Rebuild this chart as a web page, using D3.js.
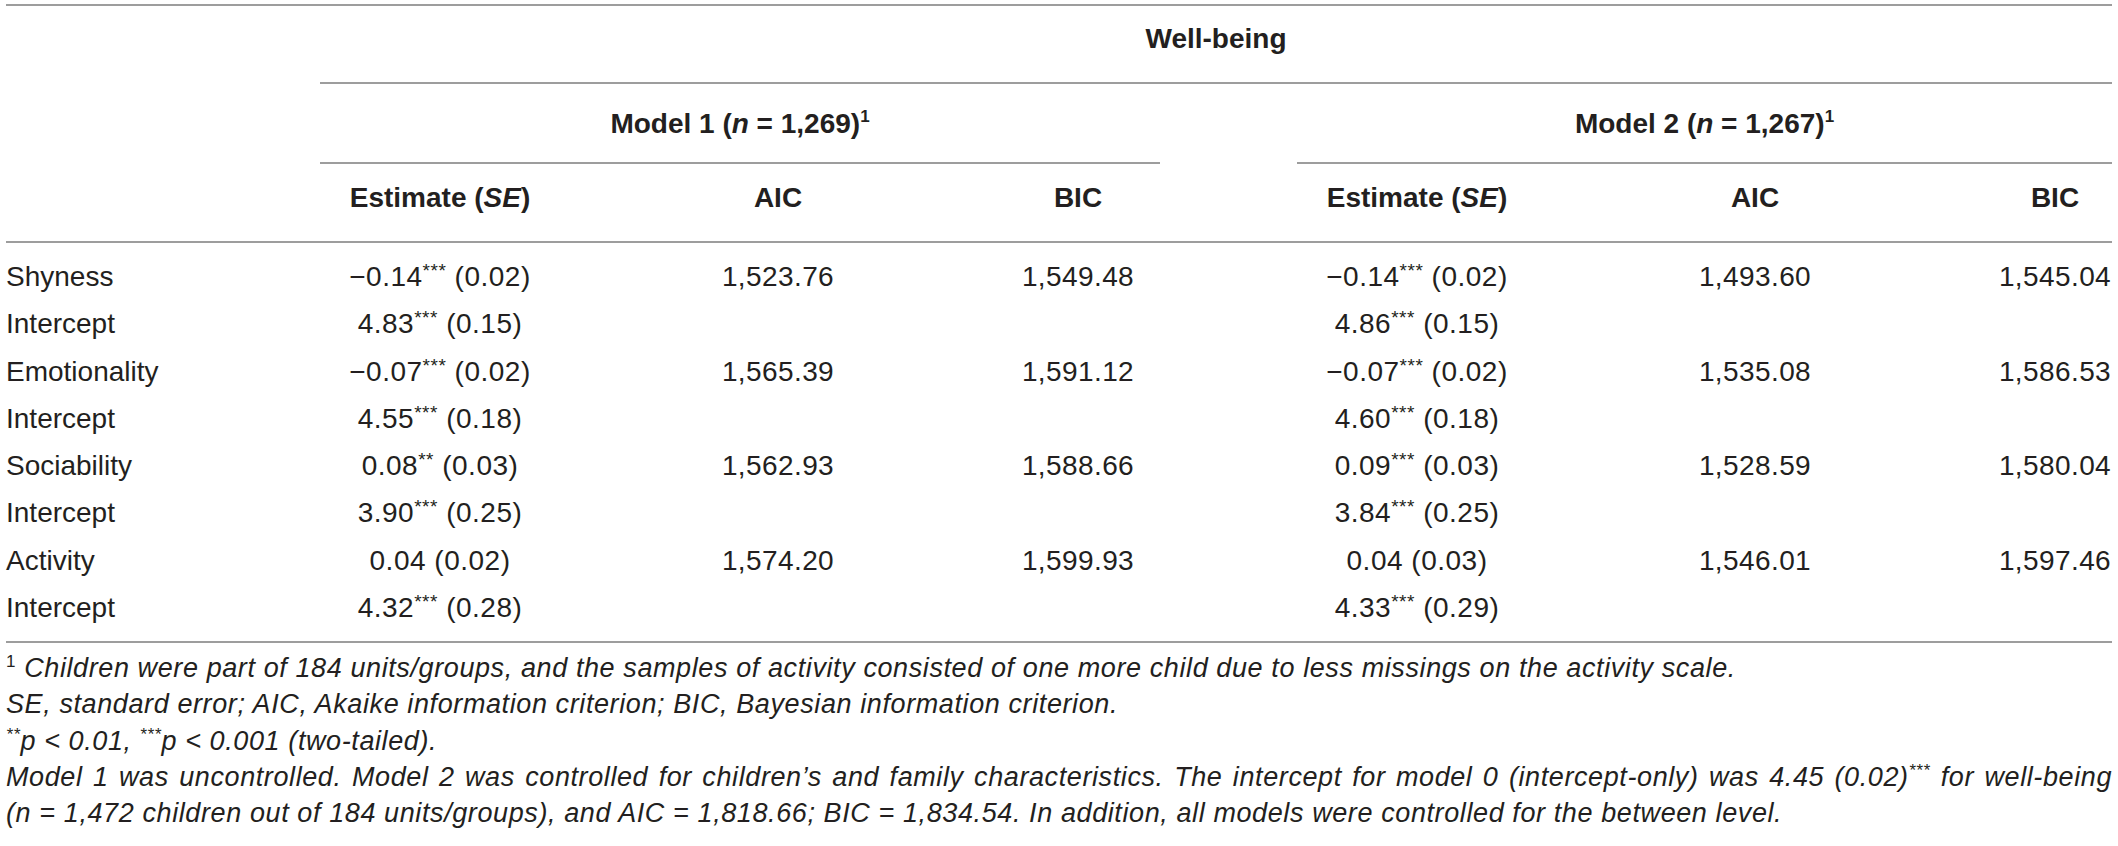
<!DOCTYPE html>
<html>
<head>
<meta charset="utf-8">
<script src="https://cdn.jsdelivr.net/npm/d3@7"></script>
<style>
  html, body { margin: 0; padding: 0; background: #fff; }
  svg text { font-family: "Liberation Sans", Arial, Helvetica, sans-serif; fill: #231f20; }
</style>
</head>
<body>
<svg width="2118" height="846"></svg>
<script>
// table content
var rowLabels = ["Shyness", "Intercept", "Emotionality", "Intercept", "Sociability", "Intercept", "Activity", "Intercept"];

var m1Est = [-0.14, 4.83, -0.07, 4.55, 0.08, 3.90, 0.04, 4.32];
var m1SE  = [0.02, 0.15, 0.02, 0.18, 0.03, 0.25, 0.02, 0.28];
var m1Sig = ["***", "***", "***", "***", "**", "***", "", "***"];
var m1AIC = [1523.76, null, 1565.39, null, 1562.93, null, 1574.20, null];
var m1BIC = [1549.48, null, 1591.12, null, 1588.66, null, 1599.93, null];

var m2Est = [-0.14, 4.86, -0.07, 4.60, 0.09, 3.84, 0.04, 4.33];
var m2SE  = [0.02, 0.15, 0.02, 0.18, 0.03, 0.25, 0.03, 0.29];
var m2Sig = ["***", "***", "***", "***", "***", "***", "", "***"];
var m2AIC = [1493.60, null, 1535.08, null, 1528.59, null, 1546.01, null];
var m2BIC = [1545.04, null, 1586.53, null, 1580.04, null, 1597.46, null];

var models = [
  {name: "Model 1", n: "1,269", est: m1Est, se: m1SE, sig: m1Sig, aic: m1AIC, bic: m1BIC},
  {name: "Model 2", n: "1,267", est: m2Est, se: m2SE, sig: m2Sig, aic: m2AIC, bic: m2BIC}
];
var colKeys = ["est", "aic", "bic"];

// footnotes: [text, kind]  kind: "" plain italic, "sup" superscript, "supu" upright superscript
var footnotes = [
  [["1", "supu"], [" Children were part of 184 units/groups, and the samples of activity consisted of one more child due to less missings on the activity scale.", ""]],
  [["SE, standard error; AIC, Akaike information criterion; BIC, Bayesian information criterion.", ""]],
  [["**", "sup"], ["p < 0.01, ", ""], ["***", "sup"], ["p < 0.001 (two-tailed).", ""]],
  [["Model 1 was uncontrolled. Model 2 was controlled for children\u2019s and family characteristics. The intercept for model 0 (intercept-only) was 4.45 (0.02)", ""], ["***", "sup"], [" for well-being", ""]],
  [["(n = 1,472 children out of 184 units/groups), and AIC = 1,818.66; BIC = 1,834.54. In addition, all models were controlled for the between level.", ""]]
];

var svg = d3.select("svg");
var left = 6, right = 2112;
var lineColor = "#7d7d7d";

var groupX = d3.scaleOrdinal().domain([0, 1]).range([320, 1297]);
var groupW = 840, groupW2 = 815;
var colX = d3.scaleOrdinal().domain(colKeys).range([120, 458, 758]);
var rowY = d3.scaleLinear().domain([0, rowLabels.length - 1]).range([286, 617]);

var fmtEst = d3.format(".2f");
var fmtIC = d3.format(",.2f");

function hline(x1, x2, y) {
  svg.append("line")
    .attr("x1", x1).attr("x2", x2)
    .attr("y1", y).attr("y2", y)
    .attr("stroke", lineColor)
    .attr("stroke-width", 1.6);
}

// rules
hline(left, right, 5);
hline(groupX(0), right, 83);
hline(groupX(0), groupX(0) + groupW, 163);
hline(groupX(1), groupX(1) + groupW2, 163);
hline(left, right, 242);
hline(left, right, 642);

// header
svg.append("text")
  .attr("x", (groupX(0) + right) / 2).attr("y", 48)
  .attr("text-anchor", "middle")
  .attr("font-size", 28).attr("font-weight", "bold")
  .text("Well-being");

models.forEach(function(m, i) {
  var gx = groupX(i);
  var gw = i === 0 ? groupW : groupW2;
  var t = svg.append("text")
    .attr("x", gx + gw / 2).attr("y", 133)
    .attr("text-anchor", "middle")
    .attr("font-size", 28).attr("font-weight", "bold");
  t.append("tspan").text(m.name + " (");
  t.append("tspan").attr("font-style", "italic").text("n");
  t.append("tspan").text(" = " + m.n + ")");
  t.append("tspan").attr("font-size", 17).attr("dy", -11).text("1");

  var h = svg.append("text")
    .attr("x", gx + colX("est")).attr("y", 207)
    .attr("text-anchor", "middle")
    .attr("font-size", 28).attr("font-weight", "bold");
  h.append("tspan").text("Estimate (");
  h.append("tspan").attr("font-style", "italic").text("SE");
  h.append("tspan").text(")");

  ["aic", "bic"].forEach(function(k) {
    svg.append("text")
      .attr("x", gx + colX(k)).attr("y", 207)
      .attr("text-anchor", "middle")
      .attr("font-size", 28).attr("font-weight", "bold")
      .text(k.toUpperCase());
  });

  // body cells
  var est = svg.append("g").selectAll("text")
    .data(rowLabels.map(function(d, r) { return r; }))
    .enter().append("text")
    .attr("x", gx + colX("est"))
    .attr("y", function(r) { return rowY(r); })
    .attr("text-anchor", "middle")
    .attr("font-size", 28)
    .attr("letter-spacing", 0.5);
  est.each(function(r) {
    var el = d3.select(this);
    el.append("tspan").text(fmtEst(m.est[r]));
    if (m.sig[r]) {
      el.append("tspan").attr("font-size", 19).attr("dy", -9).text(m.sig[r]);
      el.append("tspan").attr("dy", 9).text(" (" + fmtEst(m.se[r]) + ")");
    } else {
      el.append("tspan").text(" (" + fmtEst(m.se[r]) + ")");
    }
  });

  ["aic", "bic"].forEach(function(k) {
    svg.append("g").selectAll("text")
      .data(m[k].map(function(v, r) { return {v: v, r: r}; }).filter(function(d) { return d.v != null; }))
      .enter().append("text")
      .attr("x", gx + colX(k))
      .attr("y", function(d) { return rowY(d.r); })
      .attr("text-anchor", "middle")
      .attr("font-size", 28)
      .attr("letter-spacing", 0.4)
      .text(function(d) { return fmtIC(d.v); });
  });
});

// row labels
svg.append("g").selectAll("text")
  .data(rowLabels)
  .enter().append("text")
  .attr("x", left)
  .attr("y", function(d, i) { return rowY(i); })
  .attr("font-size", 28)
  .text(function(d) { return d; });

// footnotes
var noteY = d3.scaleLinear().domain([0, footnotes.length - 1]).range([677, 822]);
footnotes.forEach(function(parts, i) {
  var t = svg.append("text")
    .attr("x", left).attr("y", noteY(i))
    .attr("font-size", 27).attr("font-style", "italic")
    .attr("letter-spacing", 0.6);
  var shifted = false;
  parts.forEach(function(p) {
    var ts = t.append("tspan").text(p[0]);
    if (p[1] === "sup" || p[1] === "supu") {
      ts.attr("font-size", 17).attr("dy", shifted ? 0 : -10);
      if (p[1] === "supu") ts.attr("font-style", "normal");
      shifted = true;
    } else if (shifted) {
      ts.attr("dy", 10);
      shifted = false;
    }
  });
  // fourth line is justified to the table width
  if (i === 3) {
    var natural = t.node().getComputedTextLength();
    var spaces = parts.map(function(p) { return p[0]; }).join("").split(" ").length - 1;
    t.attr("word-spacing", Math.max(0, ((right - left) - natural) / spaces));
  }
});
</script>
</body>
</html>
